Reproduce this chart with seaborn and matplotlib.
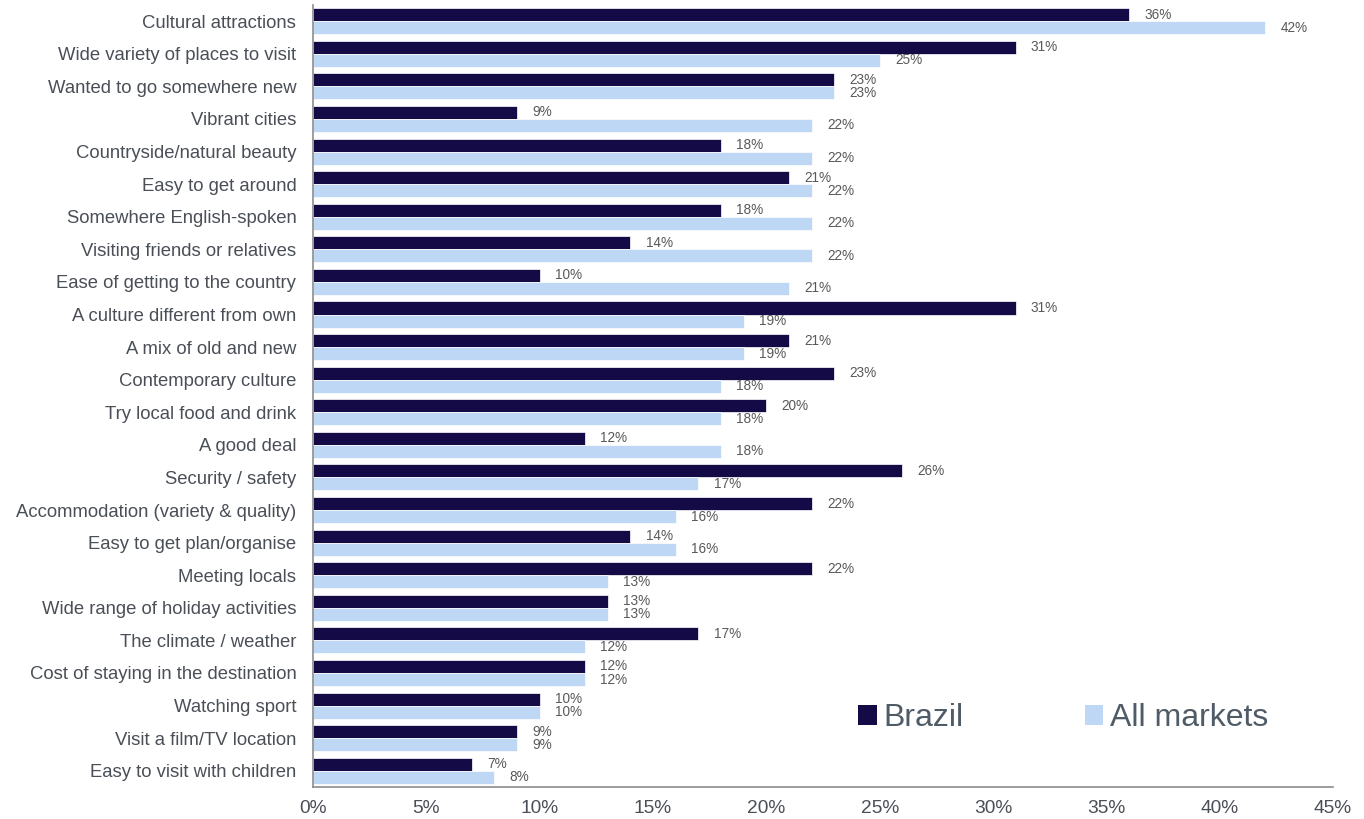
import matplotlib
matplotlib.use("Agg")
import matplotlib.pyplot as plt
import seaborn as sns
import pandas as pd
from matplotlib.patches import Patch

categories = [
    "Cultural attractions", "Wide variety of places to visit", "Wanted to go somewhere new",
    "Vibrant cities", "Countryside/natural beauty", "Easy to get around",
    "Somewhere English-spoken", "Visiting friends or relatives", "Ease of getting to the country",
    "A culture different from own", "A mix of old and new", "Contemporary culture",
    "Try local food and drink", "A good deal", "Security / safety",
    "Accommodation (variety & quality)", "Easy to get plan/organise", "Meeting locals",
    "Wide range of holiday activities", "The climate / weather", "Cost of staying in the destination",
    "Watching sport", "Visit a film/TV location", "Easy to visit with children",
]
brazil = [36, 31, 23, 9, 18, 21, 18, 14, 10, 31, 21, 23, 20, 12, 26, 22, 14, 22, 13, 17, 12, 10, 9, 7]
all_markets = [42, 25, 23, 22, 22, 22, 22, 22, 21, 19, 19, 18, 18, 18, 17, 16, 16, 13, 13, 12, 12, 10, 9, 8]
series_names = ["Brazil", "All markets"]
x_ticks = [0, 5, 10, 15, 20, 25, 30, 35, 40, 45]

colors = ["#140A45", "#BDD7F5"]

df = pd.DataFrame({
    "category": categories * 2,
    "value": brazil + all_markets,
    "series": [series_names[0]] * len(categories) + [series_names[1]] * len(categories),
})

sns.set_theme(style="white")
plt.rcParams["font.family"] = ["Liberation Sans", "DejaVu Sans"]

fig = plt.figure(figsize=(13.64, 8.19), dpi=100)
ax = fig.add_axes([0.2295, 0.039, 0.7478, 0.955])

sns.barplot(data=df, y="category", x="value", hue="series", order=categories,
            hue_order=series_names, palette=colors, orient="h", width=0.8,
            saturation=1, ax=ax, legend=False, edgecolor="white", linewidth=0.5)

for cont in ax.containers:
    ax.bar_label(cont, labels=[f"{v:.0f}%" for v in cont.datavalues], padding=11,
                 fontsize=9.8, color="#595959")

ax.set_xlim(0, 45)
ax.set_ylim(len(categories) - 0.5, -0.5)
ax.set_xticks(x_ticks)
ax.set_xticklabels([f"{t}%" for t in x_ticks], fontsize=13.8, color="#4A4F57")
ax.tick_params(axis="y", labelsize=13.3, labelcolor="#4A4F57", length=0, pad=12)
ax.tick_params(axis="x", length=0, pad=9)
ax.set_xlabel("")
ax.set_ylabel("")
for s in ["top", "right"]:
    ax.spines[s].set_visible(False)
for s in ["left", "bottom"]:
    ax.spines[s].set_color("#8C8C8C")
    ax.spines[s].set_linewidth(1.2)

handles = [Patch(facecolor=c, edgecolor="none") for c in colors]
leg = fig.legend(handles, series_names, loc="center left", bbox_to_anchor=(0.608, 0.123),
                 ncol=2, frameon=False, fontsize=23, handlelength=0.58, handleheight=0.58,
                 handletextpad=0.22, columnspacing=3.79, labelcolor="#4F5B66")

fig.savefig("out.png", dpi=100)
